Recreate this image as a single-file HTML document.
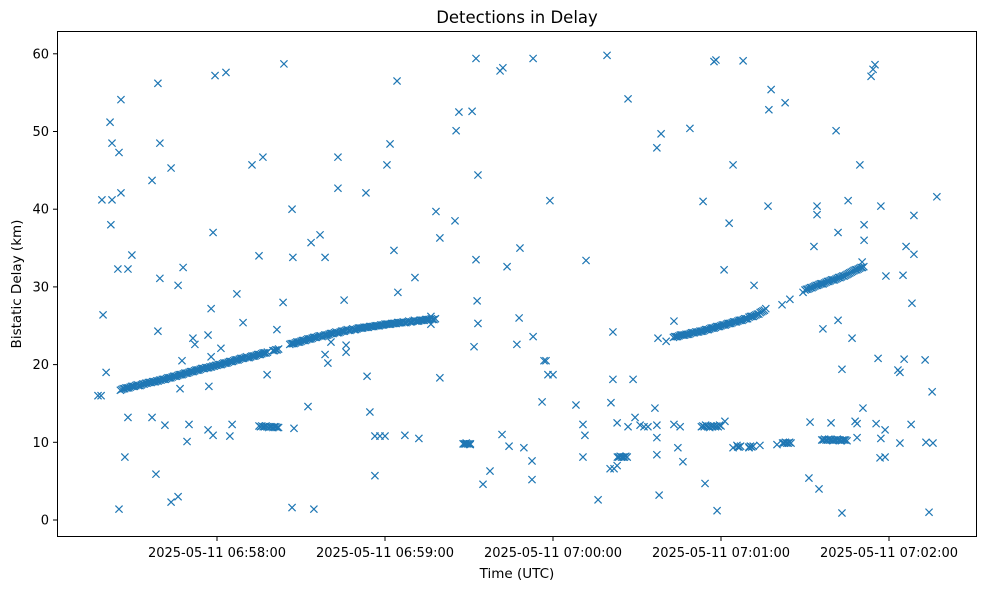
<!DOCTYPE html>
<html><head><meta charset="utf-8"><style>
body{margin:0;background:#fff;}
svg text{font-family:"DejaVu Sans","Liberation Sans",sans-serif;fill:#000;}
</style></head><body>
<svg id="chart" width="989" height="590" viewBox="0 0 989 590" xmlns="http://www.w3.org/2000/svg">
<rect width="989" height="590" fill="#fff"/>
<text x="517" y="23" font-size="16.5" text-anchor="middle">Detections in Delay</text>
<g id="marks"></g>
<rect x="57.5" y="31.5" width="919" height="505" fill="none" stroke="#000" stroke-width="1"/>
<g id="yaxis"></g>
<g id="xaxis"></g>
<text x="517" y="578" font-size="13.5" text-anchor="middle">Time (UTC)</text>
<text transform="translate(21,284) rotate(-90)" font-size="13.5" text-anchor="middle">Bistatic Delay (km)</text>
</svg>
<script>
// seconds after 2025-05-11 06:57:00 UTC
const outlierTimes=[17.5,18.6,18.9,19.3,20.4,21.8,22.5,22.5,22.1,24.6,25,25.7,25.7,25,27.1,28.2,28.2,29.6,36.8,36.8,38.2,38.9,38.9,39.6,39.6,41.4,43.6,43.6,46.1,46.1,46.8,47.5,47.9,49.3,50,51.4,52.1,56.8,56.8,57.1,57.9,57.9,58.6,58.6,59.3,61.4,63.2,64.6,65.4,67.1,69.3,72.5,75,76.4,77.9,81.4,83.6,83.9,86.8,87.1,86.8,87.5,92.5,93.6,94.6,96.8,98.6,98.6,99.6,100.7,103.2,103.2,105.4,106.1,106.1,113.2,113.6,114.6,116.4,116.4,118.2,120,120.7,121.8,123.2,124.3,124.6,124.6,127.1,130.7,132.1,136.4,136.4,138.2,139.6,139.6,145,145.4,146.4,147.9,148.9,150.4,151.1,151.8,152.5,152.5,152.9,153.2,153.2,155,157.5,161.1,162.1,161.8,163.6,164.3,167.1,167.9,168.2,169.6,172.5,172.5,172.9,172.9,176.1,176.8,177.5,178.2,178.9,180,188.2,190.7,190.7,191.4,191.8,196.1,199.3,200.4,200.7,201.4,201.8,201.4,202.9,202.9,206.8,206.8,208.6,209.3,211.1,212.5,213.9,216.4,217.1,217.1,217.1,217.1,217.5,217.9,218.6,220.4,223.2,223.2,224.6,225.4,226.4,228.9,233.6,234.3,237.5,238.2,238.6,241.1,241.4,242.9,244.3,244.3,245.7,247.9,250,251.8,253.9,256.8,257.1,257.9,260,261.8,262.9,264.6,269.3,271.4,271.8,273.2,274.3,274.3,275,276.4,279.3,281.1,281.8,281.8,283.2,283.2,285.4,286.8,287.9,288.6,288.6,289.6,290.4,290.7,291.1,291.1,293.6,294.3,295,295.4,296.1,296.8,297.1,297.1,298.6,298.9,298.6,303.2,303.9,303.9,305,305.4,306.1,307.9,308.2,308.9,308.9,312.9,313.2,314.3,315.4,315.7,317.1];
const outlierDelays=[16,16,41.2,26.4,19,51.2,48.5,41.2,38,32.3,47.3,54.1,42.1,1.4,8.1,13.2,32.3,34.1,43.7,13.2,5.9,56.2,24.3,48.5,31.1,12.2,45.3,2.3,3.0,30.2,16.9,20.5,32.5,10.1,12.3,23.4,22.6,23.8,11.6,17.2,27.2,21.0,37.0,10.9,57.2,22.1,57.6,10.8,12.3,29.1,25.4,45.7,34.0,46.7,18.7,24.5,28.0,58.7,40.0,33.8,1.6,11.8,14.6,35.7,1.4,36.7,33.8,21.3,20.2,22.9,46.7,42.7,28.3,22.5,21.6,42.1,18.5,13.9,5.7,10.8,10.8,10.8,45.7,48.4,34.7,56.5,29.3,25.4,10.9,31.2,10.5,26.2,25.2,39.7,36.3,18.3,38.5,50.1,52.5,9.8,9.8,9.7,52.6,22.3,59.4,33.5,28.2,44.4,25.3,4.6,6.3,57.8,58.2,11.0,32.6,9.5,22.6,26.0,35.0,9.3,5.2,7.6,59.4,23.6,15.2,20.5,20.5,18.7,41.1,18.7,14.8,12.3,8.1,10.9,33.4,2.6,59.8,6.6,15.1,24.2,6.6,18.1,12.5,7.0,54.2,12.0,18.1,13.2,12.2,12.0,12.0,14.4,10.6,12.2,47.9,8.4,23.4,3.2,49.7,23.0,25.6,12.3,9.3,12.0,7.5,50.4,41.0,4.7,59.0,59.2,1.2,32.2,12.7,38.2,45.7,9.3,9.6,59.1,9.3,30.2,9.6,40.4,52.8,55.4,9.7,27.7,53.7,28.4,29.3,5.4,12.6,35.2,40.4,39.3,4.0,24.6,12.5,50.1,25.7,37.0,19.4,0.9,41.1,23.4,12.7,10.6,12.4,45.7,33.2,14.4,38.0,36.0,57.1,58.0,58.6,12.4,20.8,8.0,10.5,40.4,8.1,31.4,11.6,19.3,19.0,9.9,31.5,20.7,35.2,12.3,27.9,39.2,34.2,20.6,10.0,1.0,16.5,9.9,41.6];
const trackTimes=[26,27,28,29,30,31,32,33,34,35,36,37,38,39,40,41,42,43,44,45,46,47,48,49,50,51,52,53,54,55,56,57,58,59,60,61,62,63,64,65,66,67,68,69,70,71,72,73,74,75,76,77,78,80,81,82,
86,87,88,89,90,91,92,93,94,95,96,97,98,99,100,101,102,103,104,105,106,107,108,109,110,111,112,113,114,115,116,117,118,119,120,121,122,123,124,125,126,127,128,129,130,131,132,133,134,135,136,137,138,
223,224,225,226,227,228,229,230,231,232,233,234,235,236,237,238,239,240,241,242,243,244,245,246,247,248,249,250,251,252,253,254,255,256,
270,271,272,273,274,275,276,277,278,279,280,281,282,283,284,285,286,287,288,289,290,291];
const trackDelays=[16.8,16.9,17.0,17.1,17.2,17.3,17.3,17.4,17.5,17.6,17.7,17.8,17.8,17.9,18.0,18.1,18.2,18.3,18.4,18.5,18.6,18.7,18.8,18.9,19.0,19.1,19.2,19.3,19.4,19.5,19.6,19.6,19.7,19.8,19.9,20.0,20.1,20.2,20.3,20.4,20.5,20.6,20.7,20.8,20.9,20.9,21.0,21.1,21.2,21.3,21.4,21.5,21.6,21.8,21.9,22.0,
22.6,22.7,22.8,22.9,23.0,23.1,23.2,23.3,23.4,23.5,23.6,23.7,23.7,23.8,23.9,24.0,24.1,24.1,24.2,24.3,24.4,24.4,24.5,24.5,24.6,24.7,24.7,24.8,24.8,24.9,24.9,25.0,25.0,25.1,25.2,25.2,25.2,25.3,25.3,25.4,25.4,25.4,25.5,25.5,25.6,25.6,25.6,25.7,25.7,25.8,25.8,25.8,25.9,
23.5,23.6,23.7,23.8,23.8,23.9,24.0,24.1,24.2,24.2,24.3,24.4,24.5,24.6,24.7,24.8,24.9,25.0,25.1,25.2,25.3,25.4,25.5,25.6,25.7,25.8,25.9,26.1,26.2,26.3,26.5,26.7,26.9,27.2,
29.6,29.7,29.9,30.0,30.2,30.3,30.4,30.5,30.7,30.8,30.9,31.0,31.2,31.3,31.4,31.6,31.8,32.0,32.2,32.3,32.5,32.6];
// interleaved detections between the per-second track points
const trackTimesB=[25.5,26.5,27.5,28.5,29.5,30.5,31.5,32.5,33.5,34.5,35.5,36.5,37.5,38.5,39.5,40.5,41.5,42.5,43.5,44.5,45.5,46.5,47.5,48.5,49.5,50.5,51.5,52.5,53.5,54.5,55.5,56.5,57.5,58.5,59.5,60.5,61.5,62.5,63.5,64.5,65.5,66.5,67.5,68.5,69.5,70.5,71.5,72.5,73.5,74.5,75.5,76.5,77.5,80.5,81.5,
86.5,87.5,88.5,89.5,90.5,91.5,92.5,93.5,94.5,95.5,96.5,97.5,98.5,99.5,100.5,101.5,102.5,103.5,104.5,105.5,106.5,107.5,108.5,109.5,110.5,111.5,112.5,113.5,114.5,115.5,116.5,117.5,118.5,119.5,120.5,121.5,122.5,123.5,124.5,125.5,126.5,127.5,128.5,129.5,130.5,131.5,132.5,133.5,134.5,135.5,136.5,137.5,
223.5,224.5,225.5,226.5,227.5,228.5,229.5,230.5,231.5,232.5,233.5,234.5,235.5,236.5,237.5,238.5,239.5,240.5,241.5,242.5,243.5,244.5,245.5,246.5,247.5,248.5,249.5,250.5,251.5,252.5,253.5,254.5,255.5,
270.5,271.5,272.5,273.5,274.5,275.5,276.5,277.5,278.5,279.5,280.5,281.5,282.5,283.5,284.5,285.5,286.5,287.5,288.5,289.5,290.5];
const trackDelaysB=[16.7,16.9,17.0,17.0,17.2,17.2,17.4,17.3,17.5,17.6,17.7,17.7,17.8,17.9,18.0,18.1,18.1,18.3,18.3,18.5,18.5,18.7,18.7,18.9,18.9,19.1,19.1,19.3,19.3,19.5,19.5,19.6,19.7,19.8,19.9,20.0,20.0,20.2,20.2,20.4,20.4,20.6,20.6,20.8,20.8,21.0,20.9,21.1,21.1,21.3,21.3,21.5,21.5,21.8,21.9,
22.7,22.7,22.9,22.9,23.1,23.1,23.3,23.3,23.5,23.5,23.7,23.6,23.8,23.8,24.0,24.0,24.2,24.1,24.3,24.3,24.5,24.4,24.6,24.5,24.7,24.7,24.8,24.8,24.9,24.9,25.0,25.0,25.1,25.1,25.2,25.2,25.3,25.3,25.4,25.4,25.5,25.4,25.6,25.5,25.7,25.6,25.7,25.7,25.8,25.8,25.9,25.8,
23.6,23.6,23.8,23.8,23.9,23.9,24.1,24.1,24.2,24.3,24.3,24.5,24.5,24.7,24.7,24.9,24.9,25.1,25.1,25.3,25.3,25.5,25.5,25.7,25.7,25.9,25.9,26.2,26.2,26.4,26.5,26.8,27.0,
29.7,29.8,29.9,30.1,30.2,30.4,30.4,30.6,30.7,30.9,30.9,31.1,31.2,31.4,31.5,31.7,31.9,32.1,32.2,32.4,32.5];
const clusterTimes=[75,75.5,76,76.5,77,77.5,78,78.5,79,79.5,80,80.5,81,81.5,82,148,148.5,149,149.5,150,150.5,203,203.5,204,204.5,205,205.5,206,206.5,233,233.5,234,234.5,235,235.5,236,236.5,237,237.5,238,238.5,239,239.5,240,246,246.5,247,250,250.5,251,251.5,262,262.5,263,263.5,264,264.5,265,276,276.5,277,277.5,278,278.5,279,279.5,280,280.5,281,281.5,282,282.5,283,283.5,284,284.5,285];
const clusterDelays=[12.1,12.0,12.1,12.0,12.0,12.1,12.0,11.9,12.0,12.0,11.9,12.0,12.0,11.9,11.9,9.8,9.8,9.9,9.8,9.8,9.8,8.1,8.1,8.2,8.1,8.1,8.1,8.2,8.1,12.0,12.1,12.0,12.2,12.1,12.0,11.9,12.1,12.0,12.1,12.0,12.1,12.0,12.2,12.1,9.4,9.4,9.5,9.4,9.5,9.4,9.5,9.9,9.9,10.0,9.9,9.9,10.0,9.9,10.3,10.3,10.4,10.3,10.3,10.4,10.3,10.3,10.2,10.3,10.3,10.4,10.3,10.3,10.2,10.3,10.3,10.3,10.2];
const yTicks=[0,10,20,30,40,50,60];
const xTickTimes=[60,120,180,240,300];
const xTickLabels=["2025-05-11 06:58:00","2025-05-11 06:59:00","2025-05-11 07:00:00","2025-05-11 07:01:00","2025-05-11 07:02:00"];

const NS="http://www.w3.org/2000/svg";
function xScale(t){return 49+2.8*t;}
function yScale(d){return 520-7.77*d;}
const marks=document.getElementById('marks');
function drawX(t,d){
  const cx=xScale(t),cy=yScale(d),s=3.6;
  const p=document.createElementNS(NS,'path');
  p.setAttribute('d',`M${cx-s},${cy-s}L${cx+s},${cy+s}M${cx-s},${cy+s}L${cx+s},${cy-s}`);
  p.setAttribute('stroke','#1f77b4');p.setAttribute('stroke-width','1.2');p.setAttribute('fill','none');
  
  
  marks.appendChild(p);
}
outlierTimes.forEach((t,i)=>drawX(t,outlierDelays[i]));
trackTimes.forEach((t,i)=>drawX(t,trackDelays[i]));
trackTimesB.forEach((t,i)=>drawX(t,trackDelaysB[i]));
clusterTimes.forEach((t,i)=>drawX(t,clusterDelays[i]));

const ya=document.getElementById('yaxis');
yTicks.forEach(v=>{
  const y=yScale(v);
  const l=document.createElementNS(NS,'line');
  l.setAttribute('x1',53);l.setAttribute('x2',57.5);l.setAttribute('y1',y);l.setAttribute('y2',y);l.setAttribute('stroke','#000');
  
  
  ya.appendChild(l);
  const tx=document.createElementNS(NS,'text');
  tx.setAttribute('x',49);tx.setAttribute('y',y+4.5);tx.setAttribute('font-size','13');tx.setAttribute('text-anchor','end');
  tx.textContent=v;
  
  
  ya.appendChild(tx);
});
const xa=document.getElementById('xaxis');
xTickTimes.forEach((t,i)=>{
  const x=xScale(t);
  const l=document.createElementNS(NS,'line');
  l.setAttribute('x1',x);l.setAttribute('x2',x);l.setAttribute('y1',536.5);l.setAttribute('y2',541);l.setAttribute('stroke','#000');
  
  
  xa.appendChild(l);
  const tx=document.createElementNS(NS,'text');
  tx.setAttribute('x',x);tx.setAttribute('y',557);tx.setAttribute('font-size','13');tx.setAttribute('text-anchor','middle');
  tx.textContent=xTickLabels[i];
  
  
  xa.appendChild(tx);
});
</script>
</body></html>
